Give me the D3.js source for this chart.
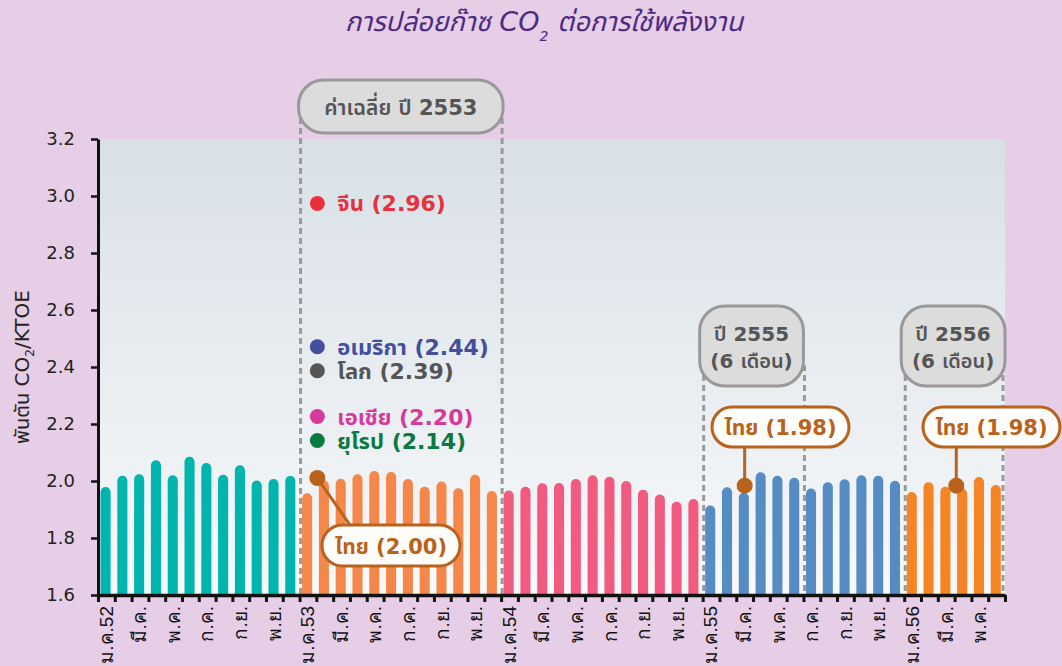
<!DOCTYPE html>
<html>
<head>
<meta charset="utf-8">
<script src="https://cdnjs.cloudflare.com/ajax/libs/d3/7.8.5/d3.min.js"></script>
<style>
  html, body { margin: 0; padding: 0; background: #e6cee6; }
  svg { display: block; font-family: "DejaVu Sans", "Noto Sans Thai", "Noto Sans", sans-serif; }
</style>
</head>
<body>
<div id="chart"></div>
<script>
// monthly values
const monthNames = ['ม.ค.', 'ก.พ.', 'มี.ค.', 'เม.ย.', 'พ.ค.', 'มิ.ย.', 'ก.ค.', 'ส.ค.', 'ก.ย.', 'ต.ค.', 'พ.ย.', 'ธ.ค.'];
const years = ['52', '53', '54', '55', '56'];
const v2552 = [1.979, 2.018, 2.024, 2.073, 2.020, 2.085, 2.063, 2.022, 2.055, 2.002, 2.007, 2.018];
const v2553 = [1.957, 2.002, 2.008, 2.024, 2.035, 2.032, 2.007, 1.980, 1.998, 1.975, 2.022, 1.965];
const v2554 = [1.967, 1.980, 1.992, 1.993, 2.007, 2.020, 2.015, 2.000, 1.969, 1.953, 1.927, 1.937];
const v2555 = [1.914, 1.978, 1.959, 2.031, 2.018, 2.011, 1.974, 1.996, 2.006, 2.020, 2.018, 2.001];
const v2556 = [1.961, 1.996, 1.980, 1.974, 2.014, 1.986];
const yearColors = ['#00b5ad', '#f5874b', '#f05b7f', '#568cc4', '#f58424'];
const yTicks = [1.6, 1.8, 2.0, 2.2, 2.4, 2.6, 2.8, 3.0, 3.2];

// 2553 average per region
const regions = ['จีน', 'อเมริกา', 'โลก', 'เอเชีย', 'ยุโรป'];
const regionValues = [2.96, 2.44, 2.39, 2.20, 2.14];
const regionColors = ['#e8313d', '#434f9c', '#555555', '#d63a9b', '#0b7a41'];
const thaiAvg = [2.00, 1.98, 1.98];

const data = [];
[v2552, v2553, v2554, v2555, v2556].forEach((arr, yi) => {
  arr.forEach((v, mi) => {
    data.push({ label: monthNames[mi] + years[yi], month: mi, year: yi, value: v });
  });
});

const W = 1062, H = 666;
const margin = {top: 139, right: 57, bottom: 71, left: 98};
const width = W - margin.left - margin.right;
const height = H - margin.top - margin.bottom;

const svg = d3.select('#chart').append('svg')
  .attr('width', W)
  .attr('height', H);

const defs = svg.append('defs');
const grad = defs.append('linearGradient')
  .attr('id', 'bg').attr('x1', 0).attr('y1', 0).attr('x2', 0).attr('y2', 1);
grad.append('stop').attr('offset', '0%').attr('stop-color', '#d8e0e6');
grad.append('stop').attr('offset', '100%').attr('stop-color', '#f8f9fb');

// title
const title = svg.append('text')
  .attr('x', 544).attr('y', 31)
  .attr('text-anchor', 'middle')
  .attr('font-size', 27)
  .attr('font-style', 'italic')
  .attr('fill', '#4e2a84');
title.append('tspan').text('การปล่อยก๊าซ CO');
title.append('tspan').text('2').attr('font-size', 14).attr('dy', 10);
title.append('tspan').text(' ต่อการใช้พลังงาน').attr('dy', -10);

const g = svg.append('g')
  .attr('transform', 'translate(' + margin.left + ',' + margin.top + ')');

g.append('rect')
  .attr('width', width).attr('height', height)
  .attr('fill', 'url(#bg)');

const x = d3.scaleBand()
  .domain(data.map(d => d.label))
  .range([0, width])
  .padding(0);
const step = x.step();
const xi = d3.scaleLinear().domain([0, data.length]).range([0, width]);
const y = d3.scaleLinear().domain([1.6, 3.2]).range([height, 0]);

// dashed guides
const dash = g.append('g')
  .attr('stroke', '#9a9a9a').attr('stroke-width', 3).attr('stroke-dasharray', '6,4');
[[12, 24, 118 - margin.top], [36, 42, 365 - margin.top], [48, 54, 365 - margin.top]].forEach(r => {
  [r[0], r[1]].forEach(i => {
    dash.append('line')
      .attr('x1', xi(i) + (i === 54 ? -2 : 1)).attr('x2', xi(i) + (i === 54 ? -2 : 1))
      .attr('y1', r[2]).attr('y2', height);
  });
});

// bars with rounded tops
const bw = step * 0.6;
const r = bw / 2;
g.selectAll('.bar')
  .data(data)
  .enter().append('path')
  .attr('class', 'bar')
  .attr('fill', d => yearColors[d.year])
  .attr('d', d => {
    const x0 = x(d.label) + step * 0.15;
    const yt = y(d.value);
    return 'M' + x0 + ',' + height + 'V' + (yt + r) +
      'A' + r + ',' + r + ' 0 0 1 ' + (x0 + bw) + ',' + (yt + r) +
      'V' + height + 'Z';
  });

// axes
const yAxis = g.append('g')
  .call(d3.axisLeft(y).tickValues(yTicks).tickFormat(d3.format('.1f')).tickSize(7).tickSizeOuter(0));
yAxis.select('.domain').attr('stroke', '#111').attr('stroke-width', 3);
yAxis.selectAll('.tick line').attr('stroke', '#111').attr('stroke-width', 2.5);
yAxis.selectAll('.tick text')
  .attr('x', -23)
  .attr('font-size', 18)
  .attr('fill', '#222')
  .style('font-family', '"DejaVu Sans", sans-serif');

const xAxis = g.append('g')
  .attr('transform', 'translate(0,' + height + ')')
  .call(d3.axisBottom(xi).tickValues(d3.range(0, data.length + 1)).tickSize(7).tickSizeOuter(0)
    .tickFormat(i => (i < data.length && i % 2 === 0) ? (data[i].month === 0 ? data[i].label : monthNames[data[i].month]) : ''));
xAxis.select('.domain').attr('stroke', '#111').attr('stroke-width', 3.5);
xAxis.selectAll('.tick text')
  .attr('font-size', 19)
  .attr('fill', '#111')
  .attr('text-anchor', 'end')
  .attr('dy', '0.35em')
  .attr('transform', 'translate(' + (step * 0.45) + ',0) rotate(-90)')
  .attr('x', -11)
  .attr('y', 0);
xAxis.selectAll('.tick line').attr('stroke', '#111').attr('stroke-width', 3);

// y axis title
const yt = svg.append('text')
  .attr('transform', 'translate(29,' + 367 + ') rotate(-90)')
  .attr('text-anchor', 'middle')
  .attr('font-size', 20)
  .attr('fill', '#222');
yt.append('tspan').text('พันตัน CO');
yt.append('tspan').text('2').attr('font-size', 12).attr('dy', 5);
yt.append('tspan').text('/KTOE').attr('dy', -5);

// grey year boxes
function greyBox(x0, x1, y0, y1, lines) {
  g.append('rect')
    .attr('x', x0).attr('y', y0 - margin.top)
    .attr('width', x1 - x0).attr('height', y1 - y0)
    .attr('rx', Math.min(25, (y1 - y0) / 2))
    .attr('fill', '#dcdcdd').attr('stroke', '#999').attr('stroke-width', 3);
  lines.forEach((t, i) => {
    g.append('text')
      .attr('x', (x0 + x1) / 2)
      .attr('y', y0 - margin.top + (lines.length === 1 ? (y1 - y0) / 2 + 8 : 35 + i * 27))
      .attr('text-anchor', 'middle')
      .attr('font-size', lines.length === 1 ? 21 : 20).attr('font-weight', 600)
      .attr('fill', '#555')
      .text(t);
  });
}
greyBox(xi(12) - 1, xi(24) + 2, 80, 133, ['ค่าเฉลี่ย ปี 2553']);
greyBox(xi(36) - 3, xi(42), 306, 386, ['ปี 2555', '(6 เดือน)']);
greyBox(xi(48) - 3, xi(54), 306, 386, ['ปี 2556', '(6 เดือน)']);

// region averages, labels nudged apart where they would overlap
const dotX = xi(13) + 1;
const ly = regionValues.map(v => y(v));
for (let k = 0; k < 3; k++) {
  for (let i = 1; i < ly.length; i++) {
    const gap = ly[i] - ly[i - 1];
    if (gap < 24) {
      const m = (24 - gap) / 2;
      ly[i - 1] -= m; ly[i] += m;
    }
  }
}
regions.forEach((name, i) => {
  g.append('circle').attr('cx', dotX).attr('cy', ly[i] - 4).attr('r', 7.5).attr('fill', regionColors[i]);
  g.append('text')
    .attr('x', dotX + 20).attr('y', ly[i] + 4)
    .attr('font-size', 22).attr('font-weight', 700)
    .attr('fill', regionColors[i])
    .text(name + ' (' + regionValues[i].toFixed(2) + ')');
});

// Thai callouts
const brown = '#b8621b';
function thaiCallout(cx, cy, bx0, bx1, by0, by1, lx, ly0, value) {
  g.append('line')
    .attr('x1', cx).attr('y1', cy).attr('x2', lx).attr('y2', ly0)
    .attr('stroke', brown).attr('stroke-width', 3);
  g.append('circle').attr('cx', cx).attr('cy', cy).attr('r', 8).attr('fill', brown);
  g.append('rect')
    .attr('x', bx0).attr('y', by0 - margin.top)
    .attr('width', bx1 - bx0).attr('height', by1 - by0)
    .attr('rx', (by1 - by0) / 2)
    .attr('fill', '#fffdf9').attr('stroke', brown).attr('stroke-width', 3);
  g.append('text')
    .attr('x', (bx0 + bx1) / 2).attr('y', (by0 + by1) / 2 - margin.top + 8)
    .attr('text-anchor', 'middle')
    .attr('font-size', 21).attr('font-weight', 700)
    .attr('fill', brown)
    .text('ไทย (' + value.toFixed(2) + ')');
}
thaiCallout(dotX, y(thaiAvg[0]) - 3, 224, 362, 525, 566, 252, 525 - margin.top, thaiAvg[0]);
const c2 = xi(38.5);
thaiCallout(c2, y(thaiAvg[1]) - 1, 614, 751, 407, 447, c2, 447 - margin.top, thaiAvg[1]);
const c3 = xi(51.1);
thaiCallout(c3, y(thaiAvg[2]) - 1, 825, 962, 407, 447, c3, 447 - margin.top, thaiAvg[2]);
</script>
</body>
</html>
